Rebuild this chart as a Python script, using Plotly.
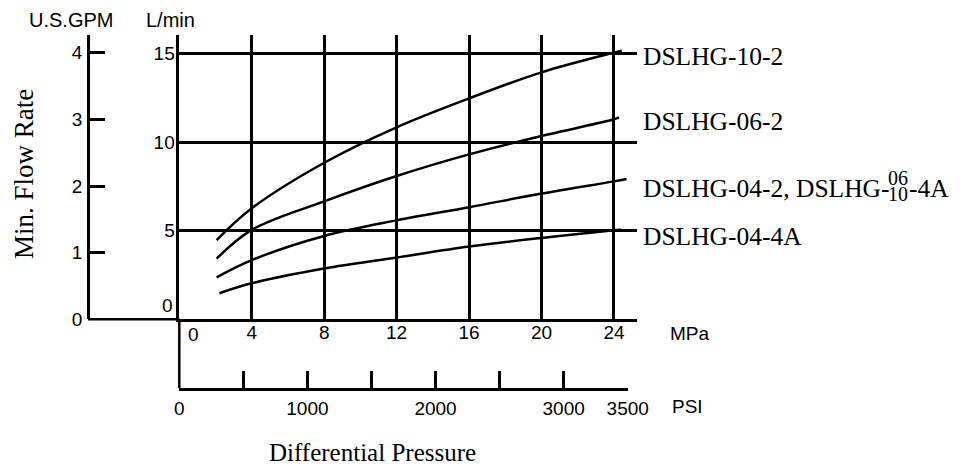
import plotly.graph_objects as go

# The page body has an 8px default margin, so the figure is drawn 8px in and
# made 8px smaller; all layout pixel positions below are window pixels.
OFF = 8
W, H = 974 - OFF, 466 - OFF

# ---------------- data ----------------
series_names = ["DSLHG-10-2", "DSLHG-06-2", "DSLHG-04-2, DSLHG-", "DSLHG-04-4A"]

mpa_10_2 = [2.06, 4, 8, 12, 16, 20, 24, 24.43]
flow_10_2 = [4.47, 6.26, 8.83, 10.83, 12.46, 13.93, 15.04, 15.15]

mpa_06_2 = [2.06, 4, 8, 12, 16, 20, 24, 24.28]
flow_06_2 = [3.42, 5.04, 6.65, 8.08, 9.30, 10.34, 11.28, 11.39]

mpa_04_2 = [2.06, 4, 8, 12, 16, 20, 24, 24.70]
flow_04_2 = [2.37, 3.34, 4.70, 5.58, 6.32, 7.09, 7.78, 7.91]

mpa_04_4a = [2.21, 4, 8, 12, 16, 20, 24, 24.4]
flow_04_4a = [1.47, 2.03, 2.86, 3.48, 4.10, 4.59, 5.02, 5.05]

mpa_ticks = [4, 8, 12, 16, 20, 24]
lpm_ticks = [5, 10, 15]
gpm_ticks = [0, 1, 2, 3, 4]
psi_ticks = [0, 500, 1000, 1500, 2000, 2500, 3000, 3500]
psi_text = ["0", "", "1000", "", "2000", "", "3000", "3500"]

# ---------------- layout helpers ----------------
def px(x):
    return (x - OFF) / W

def py(y):
    return 1 - (y - OFF) / H

X0, XR, XSC = 179.3, 637.0, 18.11      # MPa axis pixels
Y0, YT, YSC = 319.3, 35.0, 17.73       # L/min axis pixels
GPM_SC = 66.65
PSI_END = 627.7
PSI_Y = 388.0
GPM_X = 88.0

LW = 2.5
SANS = "Liberation Sans, Arial, sans-serif"
SERIF = "Liberation Serif, Times New Roman, serif"
tickfont = dict(family=SANS, size=19, color="black")

fig = go.Figure()

curves = [(mpa_10_2, flow_10_2), (mpa_06_2, flow_06_2), (mpa_04_2, flow_04_2), (mpa_04_4a, flow_04_4a)]
for (xs, ys), name in zip(curves, series_names):
    fig.add_trace(go.Scatter(x=xs, y=ys, mode="lines", name=name,
                             line=dict(color="black", width=LW, shape="spline"),
                             showlegend=False, hoverinfo="skip"))

# empty traces so the GPM and PSI axes are drawn
fig.add_trace(go.Scatter(x=[], y=[], xaxis="x", yaxis="y2", showlegend=False))
fig.add_trace(go.Scatter(x=[], y=[], xaxis="x2", yaxis="y3", showlegend=False))

fig.update_layout(
    width=W, height=H,
    margin=dict(l=0, r=0, t=0, b=0),
    paper_bgcolor="white", plot_bgcolor="rgba(0,0,0,0)",
    showlegend=False,
    xaxis=dict(domain=[px(X0), px(XR)], range=[0, (XR - X0) / XSC], anchor="y",
               tickvals=mpa_ticks, ticks="", showgrid=True, gridcolor="black", gridwidth=LW,
               showline=True, linecolor="black", linewidth=LW, zeroline=False,
               tickfont=tickfont, ticklabelstandoff=-6, automargin=False, fixedrange=True),
    yaxis=dict(domain=[py(Y0), py(YT)], range=[0, (Y0 - YT) / YSC], anchor="x",
               tickvals=lpm_ticks, ticks="", showgrid=True, gridcolor="black", gridwidth=LW,
               showline=True, linecolor="black", linewidth=LW, zeroline=False,
               tickfont=tickfont, ticklabelstandoff=-2, automargin=False, fixedrange=True),
    yaxis2=dict(overlaying="y", anchor="free", position=px(GPM_X), side="left",
                range=[0, (Y0 - YT) / GPM_SC], tickvals=gpm_ticks, ticks="inside",
                ticklen=15, tickwidth=LW, tickcolor="black", showline=True, linecolor="black",
                linewidth=LW, showgrid=False, zeroline=False, tickfont=tickfont,
                ticklabelstandoff=1, automargin=False, fixedrange=True),
    xaxis2=dict(domain=[px(X0), px(PSI_END)], anchor="y3", range=[0, 3500],
                tickvals=psi_ticks, ticktext=psi_text, ticks="inside", ticklen=17,
                tickwidth=LW, tickcolor="black", showline=True, linecolor="black",
                linewidth=LW, showgrid=False, zeroline=False, tickfont=tickfont,
                ticklabelstandoff=1, automargin=False, fixedrange=True),
    yaxis3=dict(domain=[py(PSI_Y), py(PSI_Y) + 0.002], anchor="x2", visible=False,
                range=[0, 1], fixedrange=True),
)

# axis extensions
fig.add_shape(type="line", xref="paper", yref="paper", x0=px(GPM_X), x1=px(X0),
              y0=py(Y0), y1=py(Y0), line=dict(color="black", width=LW))
fig.add_shape(type="line", xref="paper", yref="paper", x0=px(X0), x1=px(X0),
              y0=py(Y0), y1=py(PSI_Y), line=dict(color="black", width=LW))

def ann(text, x, y, size, family, xanchor="center", angle=0):
    fig.add_annotation(text=text, xref="paper", yref="paper", x=px(x), y=py(y),
                       xanchor=xanchor, yanchor="middle", showarrow=False, textangle=angle,
                       font=dict(family=family, size=size, color="black"), borderpad=0)

ann("U.S.GPM", 71.5, 20, 20, SANS)
ann("L/min", 170, 20, 20, SANS)
ann("0", 174, 305, 19, SANS, xanchor="right")
ann("0", 193, 334, 19, SANS)
ann("MPa", 669, 333, 19, SANS, xanchor="left")
ann("PSI", 671, 406, 19, SANS, xanchor="left")
ann("Min. Flow Rate", 24, 174, 27, SERIF, angle=-90)
ann("Differential Pressure", 372.5, 452, 25, SERIF)

# series labels
ann(series_names[0], 642, 56, 25.5, SERIF, xanchor="left")
ann(series_names[1], 642, 121.5, 25.5, SERIF, xanchor="left")
ann(series_names[2], 642, 188, 25.5, SERIF, xanchor="left")
ann("06", 887, 177.5, 20, SERIF, xanchor="left")
ann("10", 887, 193.5, 20, SERIF, xanchor="left")
ann("-4A", 908, 188, 25.5, SERIF, xanchor="left")
ann(series_names[3], 642, 236, 25.5, SERIF, xanchor="left")

fig.write_html("out.html")
